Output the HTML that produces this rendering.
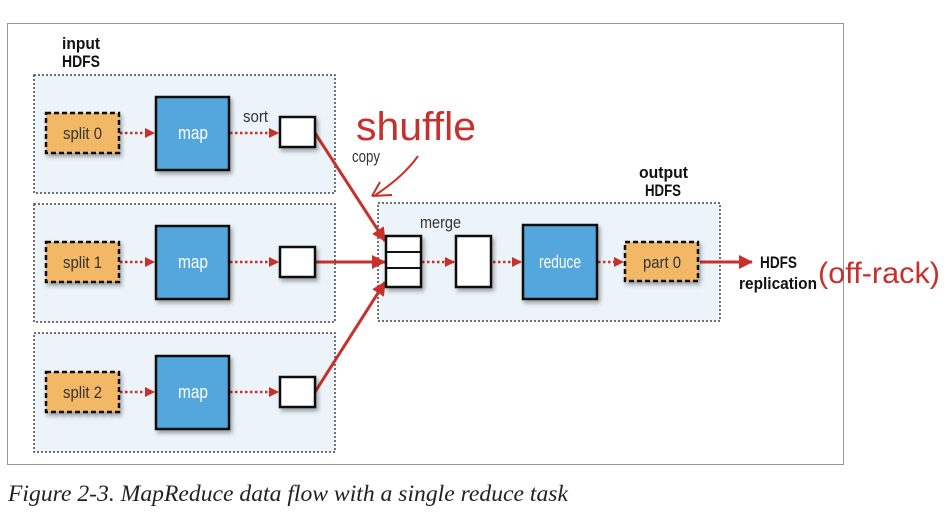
<!DOCTYPE html>
<html><head><style>
body{margin:0;background:#fff;width:951px;height:513px;overflow:hidden}
svg{display:block}
.t{font-family:"Liberation Sans",sans-serif}
</style></head><body>
<svg width="951" height="513" viewBox="0 0 951 513" xmlns="http://www.w3.org/2000/svg">
<defs>
<marker id="a" markerWidth="10" markerHeight="10" refX="9" refY="5" orient="auto" markerUnits="userSpaceOnUse"><path d="M0,0 L10,5 L0,10z" fill="#c8302c"/></marker>
<marker id="b" markerWidth="14" markerHeight="14" refX="13" refY="7" orient="auto" markerUnits="userSpaceOnUse"><path d="M0,0 L14,7 L0,14z" fill="#c8302c"/></marker>
<filter id="s" x="-20%" y="-20%" width="150%" height="150%"><feDropShadow dx="2" dy="3" stdDeviation="2" flood-color="#000" flood-opacity="0.35"/></filter>
</defs>
<rect x="7.5" y="23.5" width="836" height="441" fill="#fff" stroke="#999" stroke-width="1"/>
<g class="t" font-weight="bold" font-size="17" fill="#111" lengthAdjust="spacingAndGlyphs">
<text x="62" y="49" textLength="38" lengthAdjust="spacingAndGlyphs">input</text>
<text x="62" y="67" textLength="38" lengthAdjust="spacingAndGlyphs">HDFS</text>
<text x="639" y="178" textLength="49" lengthAdjust="spacingAndGlyphs">output</text>
<text x="645" y="196" textLength="36" lengthAdjust="spacingAndGlyphs">HDFS</text>
<text x="760" y="268" textLength="37" lengthAdjust="spacingAndGlyphs">HDFS</text>
<text x="739" y="289" textLength="78" lengthAdjust="spacingAndGlyphs">replication</text>
</g>
<g fill="#ecf4fa" stroke="#444" stroke-width="1.5" stroke-dasharray="2,2">
<rect x="34" y="75" width="301" height="118"/>
<rect x="34" y="204" width="301" height="118"/>
<rect x="34" y="333" width="301" height="119"/>
<rect x="378" y="203" width="342" height="118"/>
</g>
<g stroke="#c8302c" stroke-width="2.5" stroke-dasharray="2.5,2.5" fill="none" marker-end="url(#a)">
<line x1="120" y1="133" x2="154" y2="133"/><line x1="230" y1="133" x2="278" y2="133"/>
<line x1="120" y1="262" x2="154" y2="262"/><line x1="230" y1="262" x2="278" y2="262"/>
<line x1="120" y1="392" x2="154" y2="392"/><line x1="230" y1="392" x2="278" y2="392"/>
<line x1="422" y1="262" x2="454" y2="262"/><line x1="493" y1="262" x2="521" y2="262"/>
<line x1="598" y1="262" x2="623" y2="262"/>
</g>
<g stroke="#c8302c" stroke-width="3" fill="none" marker-end="url(#b)">
<line x1="315" y1="133" x2="385" y2="241"/>
<line x1="315" y1="262" x2="385" y2="262"/>
<line x1="315" y1="392" x2="385" y2="282"/>
<line x1="700" y1="262" x2="752" y2="262"/>
</g>
<g filter="url(#s)">
<g fill="#f3b866" stroke="#111" stroke-width="2.5" stroke-dasharray="5,3">
<rect x="46" y="113" width="73" height="40"/>
<rect x="46" y="242" width="73" height="40"/>
<rect x="46" y="372" width="73" height="40"/>
<rect x="625" y="242" width="73" height="39"/>
</g>
<g fill="#52a7dc" stroke="#111" stroke-width="2.5">
<rect x="156" y="97" width="73" height="73"/>
<rect x="156" y="226" width="73" height="73"/>
<rect x="156" y="356" width="73" height="73"/>
<rect x="523" y="225" width="74" height="74"/>
</g>
<g fill="#fff" stroke="#111" stroke-width="2.5">
<rect x="280" y="117" width="35" height="30"/>
<rect x="280" y="247" width="35" height="30"/>
<rect x="280" y="377" width="35" height="30"/>
<rect x="386" y="236" width="35" height="51"/>
<rect x="456" y="236" width="35" height="51"/>
</g>
</g>
<g stroke="#111" stroke-width="2"><line x1="386" y1="252" x2="421" y2="252"/><line x1="386" y1="268" x2="421" y2="268"/></g>
<g class="t" font-size="17" fill="#333">
<text x="63" y="139" textLength="39" lengthAdjust="spacingAndGlyphs">split 0</text>
<text x="63" y="268" textLength="39" lengthAdjust="spacingAndGlyphs">split 1</text>
<text x="63" y="398" textLength="39" lengthAdjust="spacingAndGlyphs">split 2</text>
<text x="643" y="268" textLength="38" lengthAdjust="spacingAndGlyphs">part 0</text>
<text x="243" y="122" textLength="25" lengthAdjust="spacingAndGlyphs">sort</text>
<text x="352" y="162" textLength="28" lengthAdjust="spacingAndGlyphs">copy</text>
<text x="420" y="228" textLength="41" lengthAdjust="spacingAndGlyphs">merge</text>
</g>
<g class="t" font-size="18" fill="#fff">
<text x="178" y="139" textLength="30" lengthAdjust="spacingAndGlyphs">map</text>
<text x="178" y="268" textLength="30" lengthAdjust="spacingAndGlyphs">map</text>
<text x="178" y="398" textLength="30" lengthAdjust="spacingAndGlyphs">map</text>
<text x="539" y="268" textLength="42" lengthAdjust="spacingAndGlyphs">reduce</text>
</g>
<g fill="#c8302c" font-family="'Liberation Sans',sans-serif">
<text x="356" y="140" font-size="40" textLength="120" lengthAdjust="spacingAndGlyphs">shuffle</text>
<text x="818" y="283" font-size="30" textLength="122" lengthAdjust="spacingAndGlyphs">(off-rack)</text>
</g>
<path d="M418,156 C408,170 395,182 374,196 M372,196 L392,195 M372,196 L380,182" stroke="#c8302c" stroke-width="2" fill="none"/>
<text x="8" y="501" font-family="'Liberation Serif',serif" font-style="italic" font-size="23.5" fill="#222" textLength="560" lengthAdjust="spacingAndGlyphs">Figure 2-3. MapReduce data flow with a single reduce task</text>
</svg>
</body></html>
